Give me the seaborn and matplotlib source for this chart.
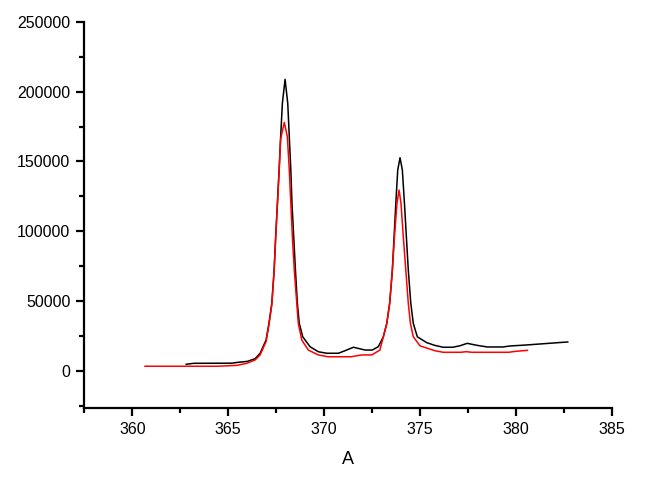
import matplotlib
matplotlib.use("Agg")
import matplotlib.pyplot as plt
import matplotlib.ticker as ticker
import seaborn as sns
import pandas as pd

# black spectrum
black_x = [362.8, 363.2, 365.2, 365.5, 366.0, 366.4, 366.66, 366.97, 367.12, 367.27,
           367.39, 367.47, 367.56, 367.65, 367.73, 367.82, 367.96, 368.1, 368.18, 368.26,
           368.32, 368.41, 368.5, 368.6, 368.7, 368.88, 369.26, 369.69, 370.13, 370.74,
           371.08, 371.52, 372.13, 372.5, 372.82, 373.08, 373.26, 373.41, 373.55, 373.64,
           373.73, 373.83, 373.95, 374.07, 374.18, 374.28, 374.38, 374.51, 374.64, 374.85,
           375.34, 375.77, 376.2, 376.7, 377.08, 377.45, 377.95, 378.5, 379.3, 379.68,
           380.5, 381.5, 382.7]
black_y = [4800, 5500, 5600, 6200, 6900, 8800, 12700, 22200, 34100, 48500,
           72300, 96100, 120000, 143900, 167700, 191600, 208800, 191600, 167700, 143900,
           120000, 96100, 72300, 48500, 34100, 24500, 17400, 13800, 12700, 12700,
           14500, 17000, 15000, 15000, 17400, 24500, 34100, 48500, 72300, 96100,
           120000, 143900, 152700, 143900, 120000, 96100, 72300, 48500, 34100, 24500,
           20300, 18300, 17000, 17000, 18100, 19800, 18400, 17200, 17200, 17900,
           18600, 19600, 20800]

# red spectrum
red_x = [360.65, 364.4, 365.44, 365.96, 366.4, 366.66, 366.97, 367.12, 367.27, 367.39,
         367.47, 367.56, 367.65, 367.73, 367.92, 368.08, 368.18, 368.26, 368.34, 368.44,
         368.57, 368.65, 368.83, 369.17, 369.69, 370.2, 371.4, 371.95, 372.48, 372.9,
         373.08, 373.26, 373.41, 373.55, 373.66, 373.79, 373.9, 374.0, 374.12, 374.25,
         374.38, 374.49, 374.64, 374.99, 375.77, 376.2, 377.1, 377.4, 377.7, 379.6,
         380.0, 380.6]
red_y = [3400, 3400, 4000, 5500, 7900, 11500, 21000, 33000, 47500, 71500,
         95000, 119000, 143000, 166000, 178000, 167700, 143900, 120000, 96100, 72300,
         48500, 34100, 22200, 15000, 11500, 10200, 10200, 11500, 11500, 15000,
         24500, 34100, 48500, 72300, 96100, 120000, 129500, 120000, 96100, 72300,
         48500, 34100, 24500, 18000, 14500, 13400, 13400, 13800, 13400, 13400,
         14100, 14800]

x_ticks = [360, 365, 370, 375, 380, 385]
y_ticks = [0, 50000, 100000, 150000, 200000, 250000]

sns.set_style("ticks")
plt.rcParams['font.family'] = ['Liberation Sans', 'DejaVu Sans']

fig = plt.figure(figsize=(6.69, 4.84), dpi=100)
ax = fig.add_axes([0.126, 0.157, 0.789, 0.798])

df_black = pd.DataFrame({'x': black_x, 'y': black_y})
df_red = pd.DataFrame({'x': red_x, 'y': red_y})
sns.lineplot(data=df_black, x='x', y='y', color='black', lw=1.1, ax=ax, sort=False)
sns.lineplot(data=df_red, x='x', y='y', color='red', lw=1.1, ax=ax, sort=False)

ax.set_xlim(357.5, 385)
ax.set_ylim(-26500, 250000)
ax.set_xticks(x_ticks)
ax.set_yticks(y_ticks)
ax.set_xticklabels([str(t) for t in x_ticks])
ax.set_yticklabels([str(t) for t in y_ticks])
ax.xaxis.set_minor_locator(ticker.MultipleLocator(2.5))
ax.yaxis.set_minor_locator(ticker.MultipleLocator(25000))

sns.despine(ax=ax)
for s in ['left', 'bottom']:
    ax.spines[s].set_linewidth(1.6)
    ax.spines[s].set_color('black')
ax.tick_params(which='major', length=6, width=1.6, labelsize=11.5, pad=4,
               color='black', labelcolor='black')
ax.tick_params(which='minor', length=3.5, width=1.6, color='black')

ax.set_xlabel('A', fontsize=13, labelpad=10, color='black')
ax.set_ylabel('')

fig.savefig('out.png', dpi=100)
